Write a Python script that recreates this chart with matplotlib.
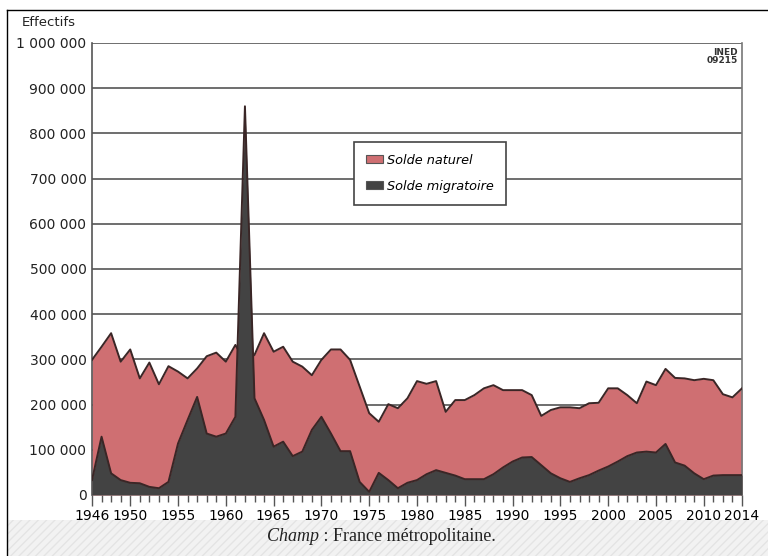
import numpy as np
import matplotlib.pyplot as plt
from matplotlib.patches import Rectangle
from matplotlib.ticker import FuncFormatter

years = list(range(1946, 2015))

# solde naturel (pink)
natural = [
    299, 328, 358, 295, 322, 258, 293, 245, 285, 273,   # 1946-1955
    258, 280, 307, 315, 295, 332, 295, 310, 358, 317,   # 1956-1965
    328, 295, 284, 265, 299, 322, 322, 299, 240, 181,   # 1966-1975
    162, 201, 192, 214, 252, 246, 252, 184, 210, 210,   # 1976-1985
    221, 236, 243, 232, 232, 232, 221, 175, 188, 194,   # 1986-1995
    194, 192, 203, 204, 236, 236, 221, 203, 251, 243,   # 1996-2005
    279, 259, 258, 254, 257, 254, 223, 216, 236,        # 2006-2014
]
# solde migratoire (dark)
migration = [
    33, 129, 48, 33, 27, 26, 18, 15, 29, 114,           # 1946-1955
    166, 217, 136, 129, 136, 173, 860, 214, 166, 107,   # 1956-1965
    118, 86, 96, 144, 173, 136, 97, 97, 29, 7,          # 1966-1975
    49, 33, 15, 27, 33, 46, 55, 49, 43, 35,             # 1976-1985
    35, 35, 46, 61, 74, 83, 84, 66, 48, 37,             # 1986-1995
    29, 37, 44, 54, 63, 74, 86, 94, 96, 94,             # 1996-2005
    113, 72, 65, 48, 35, 43, 44, 44, 44,                # 2006-2014
]

PINK = "#cf6f72"
DARK = "#434343"
EDGE = "#3a2626"
GRID = "#555555"

plt.rcParams['font.family'] = ['Liberation Sans Narrow', 'DejaVu Sans']

fig = plt.figure(figsize=(7.68, 5.56), dpi=100)
ax = fig.add_axes([92 / 768, 1 - 495 / 556, 650 / 768, 452 / 556])

nat = np.array(natural) * 1000
mig = np.array(migration) * 1000
ax.fill_between(years, 0, nat, color=PINK, lw=0, zorder=2)
ax.plot(years, nat, color=EDGE, lw=1.4, zorder=3)
ax.fill_between(years, 0, mig, color=DARK, lw=0, zorder=4)
ax.plot(years, mig, color=EDGE, lw=1.4, zorder=5)

ax.set_xlim(1946, 2014)
ax.set_ylim(0, 1_000_000)
ax.set_yticks(np.arange(0, 1_000_001, 100_000))
ax.yaxis.set_major_formatter(FuncFormatter(lambda v, p: f"{int(v):,}".replace(",", " ")))
ax.yaxis.grid(True, color=GRID, lw=1.2, zorder=1)
ax.tick_params(axis='y', length=0, labelsize=10, pad=4, colors='#222222')

ax.set_xticks([1946, 1950, 1955, 1960, 1965, 1970, 1975, 1980, 1985,
               1990, 1995, 2000, 2005, 2010, 2014])
ax.set_xticks(years, minor=True)
ax.tick_params(axis='x', which='major', length=8, width=1, labelsize=10,
               color=GRID, pad=2)
ax.tick_params(axis='x', which='minor', length=5, width=1, color=GRID)

for side in ['top', 'bottom']:
    ax.spines[side].set_visible(False)
ax.spines['left'].set_color(GRID)
ax.spines['right'].set_color('#777777')
ax.spines['left'].set_linewidth(1.2)
ax.spines['right'].set_linewidth(1.2)
ax.set_axisbelow(True)

fig.text(22 / 768, 1 - 22 / 556, "Effectifs", fontsize=9.5, va='center', color='#222222')
ax.text(0.993, 0.99, "INED\n09215", transform=ax.transAxes, ha='right', va='top',
        fontsize=6.5, fontweight='bold', linespacing=0.9, color='#333333', zorder=6)

handles = [Rectangle((0, 0), 1, 1, fc=PINK, ec='#555555', lw=0.8),
           Rectangle((0, 0), 1, 1, fc=DARK, ec='#555555', lw=0.8)]
leg = ax.legend(handles, ["Solde naturel", "Solde migratoire"],
                loc='upper left', bbox_to_anchor=(0.403, 0.782),
                fancybox=False, framealpha=1, edgecolor='#444444',
                prop={'style': 'italic', 'size': 9.3},
                handlelength=1.3, handleheight=0.6, handletextpad=0.3,
                labelspacing=1.0, borderpad=0.95, borderaxespad=0)
leg.get_frame().set_linewidth(1.2)
leg.set_zorder(10)

# caption band at the bottom
band = Rectangle((7 / 768, 0), 1, 36 / 556, transform=fig.transFigure,
                 fc='#f2f2f2', ec='#e4e4e4', hatch='////', lw=0, zorder=0)
fig.patches.append(band)
fig.text(319 / 768, 11 / 556, "Champ", fontsize=13, style='italic',
         family='Liberation Serif', ha='right', va='bottom', color='#222222')
fig.text(319 / 768, 11 / 556, " : France métropolitaine.", fontsize=13,
         family='Liberation Serif', ha='left', va='bottom', color='#222222')

# outer frame lines
fig.add_artist(plt.Line2D([7 / 768, 7 / 768], [0, 1 - 10 / 556],
                          transform=fig.transFigure, color='black', lw=1))
fig.add_artist(plt.Line2D([7 / 768, 1], [1 - 10 / 556, 1 - 10 / 556],
                          transform=fig.transFigure, color='black', lw=1))

fig.savefig("out.png", dpi=100)
